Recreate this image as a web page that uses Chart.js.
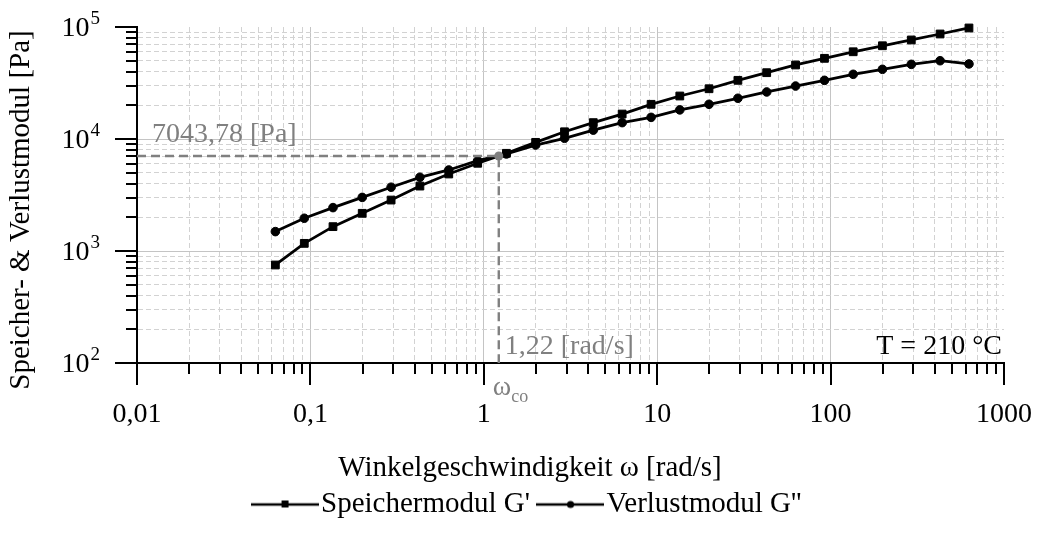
<!DOCTYPE html>
<html lang="de">
<head>
<meta charset="utf-8">
<title>Speicher- und Verlustmodul</title>
<script src="https://cdn.jsdelivr.net/npm/chart.js@4.4.1/dist/chart.umd.min.js"></script>
<style>
  html,
  body {
    margin: 0;
    padding: 0;
    background: #fff;
  }
  #chart-box {
    width: 1040px;
    height: 533px;
  }
</style>
</head>
<body>
<div id="chart-box"><canvas id="modul-chart"></canvas></div>
<script>
const omega = [
  0.0628, 0.0922, 0.135, 0.199, 0.292, 0.428, 0.628, 0.922, 1.35, 1.99, 2.92,
  4.28, 6.28, 9.22, 13.5, 19.9, 29.2, 42.8, 62.8, 92.2, 135, 199, 292, 428, 628,
];
const speichermodul = [
  750, 1170, 1650, 2170, 2850, 3800, 4870, 6070, 7450, 9330, 11600, 14000,
  16700, 20400, 24200, 28100, 33400, 39100, 45800, 52500, 60100, 68000, 76600,
  86600, 98000,
];
const verlustmodul = [
  1490, 1960, 2440, 3010, 3710, 4550, 5290, 6400, 7350, 8830, 10150, 12000,
  14000, 15600, 18200, 20400, 23100, 26300, 29700, 33400, 37800, 41900, 46400,
  50000, 46800,
];

const crossOmega = 1.22;
const crossModul = 7043.78;
const crossModulLabel = "7043,78 [Pa]";
const crossOmegaLabel = "1,22 [rad/s]";
const tempLabel = "T = 210 °C";

const xDecades = [0.01, 0.1, 1, 10, 100, 1000];
const xDecadeLabels = ["0,01", "0,1", "1", "10", "100", "1000"];
const yDecades = [100, 1000, 10000, 100000];
const yExponents = ["2", "3", "4", "5"];
const minorSteps = [2, 3, 4, 5, 6, 7, 8, 9];

const xTitle = "Winkelgeschwindigkeit ω [rad/s]";
const yTitle = "Speicher- & Verlustmodul [Pa]";
const seriesNames = ["Speichermodul G'", "Verlustmodul G''"];

const FONT = "'Liberation Serif', 'Times New Roman', serif";
const GRAY = "#808080";
const LEGEND_SHIFT = 30;

const logTicks = (decades) => {
  const ticks = [];
  decades.forEach((d, i) => {
    ticks.push({ value: d, major: true });
    if (i < decades.length - 1) {
      minorSteps.forEach((s) => {
        ticks.push({ value: Number((d * s).toPrecision(3)), major: false });
      });
    }
  });
  return ticks;
};

const makeLegendMark = (style) => {
  const c = document.createElement("canvas");
  c.width = 68;
  c.height = 14;
  const g = c.getContext("2d");
  g.strokeStyle = "#000";
  g.lineWidth = 2.5;
  g.beginPath();
  g.moveTo(0, 7);
  g.lineTo(68, 7);
  g.stroke();
  g.fillStyle = "#000";
  if (style === "rect") {
    g.fillRect(31, 3, 7, 7);
  } else {
    g.beginPath();
    g.arc(34.5, 7, 3.6, 0, Math.PI * 2);
    g.fill();
  }
  return c;
};
const legendMarks = [null, makeLegendMark("rect"), makeLegendMark("circle")];

const gridFor = (maxValue) => ({
  grid: {
    color: (ctx) => {
      if (!ctx.tick) return "#c8c8c8";
      if (ctx.tick.value >= maxValue) return "rgba(0,0,0,0)";
      return ctx.tick.major ? "#c4c4c4" : "#d2d2d2";
    },
    lineWidth: 1,
    drawTicks: false,
  },
  border: {
    display: true,
    color: "#000",
    width: 2,
    dash: (ctx) => (ctx.tick && !ctx.tick.major ? [5, 3] : []),
  },
  ticks: { display: false },
});

const axisDecor = {
  id: "axisDecor",
  afterLayout(chart) {
    // legend sits a bit right of the canvas centre in the original
    chart.legend.left += LEGEND_SHIFT;
    chart.legend.right += LEGEND_SHIFT;
  },
  afterDraw(chart) {
    const { ctx, chartArea } = chart;
    const xs = chart.scales.x;
    const ys = chart.scales.y;
    ctx.save();
    ctx.strokeStyle = "#000";
    ctx.lineWidth = 2;

    xs.ticks.forEach((t) => {
      const px = Math.round(xs.getPixelForValue(t.value));
      ctx.beginPath();
      ctx.moveTo(px, chartArea.bottom);
      ctx.lineTo(px, chartArea.bottom + (t.major ? 22 : 11));
      ctx.stroke();
    });
    ys.ticks.forEach((t) => {
      const py = Math.round(ys.getPixelForValue(t.value));
      ctx.beginPath();
      ctx.moveTo(chartArea.left, py);
      ctx.lineTo(chartArea.left - (t.major ? 22 : 11), py);
      ctx.stroke();
    });

    // tick labels
    ctx.fillStyle = "#000";
    ctx.textBaseline = "alphabetic";
    ctx.font = `28px ${FONT}`;
    ctx.textAlign = "center";
    xDecades.forEach((v, i) => {
      ctx.fillText(xDecadeLabels[i], xs.getPixelForValue(v), chartArea.bottom + 59);
    });
    yDecades.forEach((v, i) => {
      const py = ys.getPixelForValue(v);
      ctx.font = `19px ${FONT}`;
      const supW = ctx.measureText(yExponents[i]).width;
      const right = chartArea.left - 37;
      ctx.textAlign = "left";
      ctx.fillText(yExponents[i], right - supW, py - 3);
      ctx.font = `28px ${FONT}`;
      ctx.textAlign = "right";
      ctx.fillText("10", right - supW - 1, py + 9);
    });

    // axis titles
    ctx.textAlign = "center";
    ctx.font = `29px ${FONT}`;
    ctx.fillText(xTitle, 530, 476);
    ctx.save();
    ctx.translate(21, 210);
    ctx.rotate(-Math.PI / 2);
    ctx.textBaseline = "middle";
    ctx.fillText(yTitle, 0, 0);
    ctx.restore();

    // annotations
    const cx = xs.getPixelForValue(crossOmega);
    const cy = ys.getPixelForValue(crossModul);
    ctx.font = `28px ${FONT}`;
    ctx.fillStyle = GRAY;
    ctx.textAlign = "left";
    ctx.fillText(crossModulLabel, chartArea.left + 15, cy - 14);
    ctx.fillText(crossOmegaLabel, cx + 6, chartArea.bottom - 9);
    ctx.fillText("ω", cx - 6, chartArea.bottom + 32);
    const wW = ctx.measureText("ω").width;
    ctx.font = `18px ${FONT}`;
    ctx.fillText("co", cx - 6 + wW, chartArea.bottom + 39);
    ctx.font = `28px ${FONT}`;
    ctx.fillStyle = "#000";
    ctx.textAlign = "right";
    ctx.fillText(tempLabel, chartArea.right - 2, chartArea.bottom - 9);
    ctx.restore();
  },
};

const crossData = [
  { x: xDecades[0], y: crossModul },
  { x: crossOmega, y: crossModul },
  { x: crossOmega, y: yDecades[0] },
];

const modulChart = new Chart(document.getElementById("modul-chart"), {
  type: "scatter",
  data: {
    datasets: [
      {
        label: "crossover",
        data: crossData,
        showLine: true,
        borderColor: GRAY,
        borderWidth: 2.4,
        borderDash: [9, 5],
        pointRadius: [0, 4.5, 0],
        pointBackgroundColor: GRAY,
        pointBorderWidth: 0,
      },
      {
        label: seriesNames[0],
        data: omega.map((w, i) => ({ x: w, y: speichermodul[i] })),
        showLine: true,
        clip: 10,
        borderColor: "#000",
        borderWidth: 2.8,
        pointStyle: "rect",
        pointRadius: 5.5,
        pointBackgroundColor: "#000",
        pointBorderColor: "#000",
        pointBorderWidth: 1,
      },
      {
        label: seriesNames[1],
        data: omega.map((w, i) => ({ x: w, y: verlustmodul[i] })),
        showLine: true,
        clip: 10,
        borderColor: "#000",
        borderWidth: 2.8,
        pointStyle: "circle",
        pointRadius: 4.3,
        pointBackgroundColor: "#000",
        pointBorderColor: "#000",
        pointBorderWidth: 1,
      },
    ],
  },
  options: {
    responsive: true,
    maintainAspectRatio: false,
    animation: false,
    layout: { padding: { left: 0, right: 36, top: 27, bottom: 4 } },
    plugins: {
      tooltip: { enabled: false },
      legend: {
        position: "bottom",
        labels: {
          font: { family: FONT, size: 29 },
          color: "#000",
          usePointStyle: true,
          pointStyleWidth: 44,
          padding: 18,
          generateLabels: (chart) => {
            const items = Chart.defaults.plugins.legend.labels.generateLabels(chart);
            return items
              .filter((item) => item.datasetIndex > 0)
              .map((item) => ({ ...item, pointStyle: legendMarks[item.datasetIndex] }));
          },
        },
      },
    },
    scales: {
      x: {
        type: "logarithmic",
        position: "bottom",
        min: xDecades[0],
        max: xDecades[xDecades.length - 1],
        afterBuildTicks: (scale) => {
          scale.ticks = logTicks(xDecades);
        },
        afterFit: (scale) => {
          scale.height = 109;
        },
        ...gridFor(xDecades[xDecades.length - 1]),
      },
      y: {
        type: "logarithmic",
        position: "left",
        min: yDecades[0],
        max: yDecades[yDecades.length - 1],
        afterBuildTicks: (scale) => {
          scale.ticks = logTicks(yDecades);
        },
        afterFit: (scale) => {
          scale.width = 137;
        },
        ...gridFor(yDecades[yDecades.length - 1]),
      },
    },
  },
  plugins: [axisDecor],
});
</script>
</body>
</html>
